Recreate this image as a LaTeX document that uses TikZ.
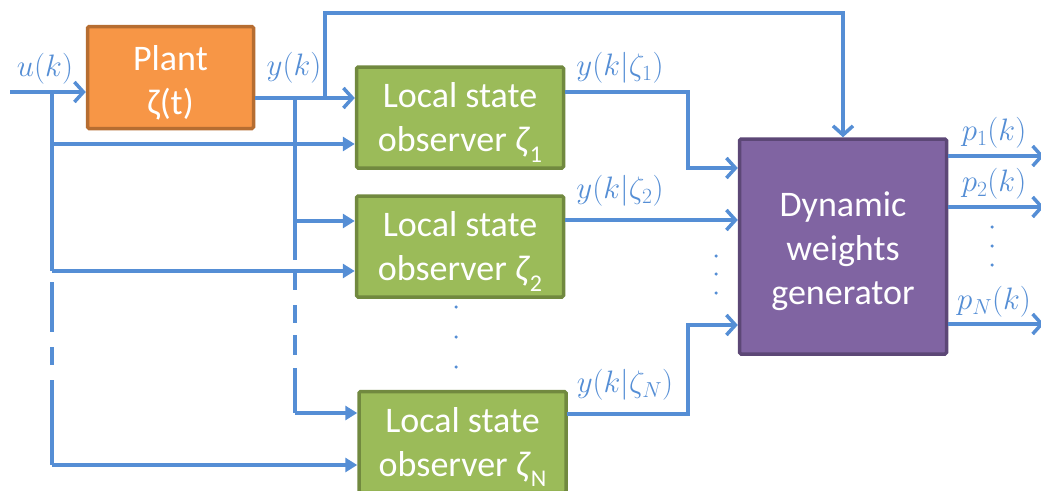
\RequirePackage{fix-cm}
\documentclass[tikz,border=0pt]{standalone}
\usepackage{fontspec}
\setmainfont{Carlito}
\usetikzlibrary{arrows.meta}
\definecolor{wire}{HTML}{558ED5}
\definecolor{plantfill}{HTML}{F79646}
\definecolor{plantedge}{HTML}{B66D31}
\definecolor{obsfill}{HTML}{9BBB59}
\definecolor{obsedge}{HTML}{71893F}
\definecolor{dwgfill}{HTML}{8064A2}
\definecolor{dwgedge}{HTML}{5C4776}
\tikzset{
  blk/.style={draw, line width=3.5pt, rounded corners=1.5pt, text=white, align=center,
    font=\fontsize{36}{44}\selectfont, inner sep=0pt},
  plantbox/.style={blk, fill=plantfill, draw=plantedge, minimum width=166pt, minimum height=102pt},
  obsbox/.style={blk, fill=obsfill, draw=obsedge, minimum width=207pt, minimum height=101pt},
  dwgbox/.style={blk, fill=dwgfill, draw=dwgedge, minimum width=207pt, minimum height=215pt},
  wireline/.style={draw=wire, line width=3.5pt},
  openarr/.style={wireline, -{Straight Barb[length=9pt, width=20pt, line width=3.5pt]}},
  solidarr/.style={wireline, -{Triangle[length=12pt, width=14pt]}},
  sig/.style={text=wire, font=\fontsize{31}{36}\selectfont, inner sep=0pt},
  dotmark/.style={fill=wire, draw=none, circle, inner sep=0pt, minimum size=3.5pt}
}
\newcommand{\zsub}[1]{\raisebox{-0.28em}{\fontsize{24}{24}\selectfont #1}}
\newcommand{\topstrut}{\rule{0pt}{35pt}}
\begin{document}
\begin{tikzpicture}[x=1pt, y=-1pt]
\useasboundingbox (0,0) rectangle (1041,490);

% blocks
\node[plantbox] (plant) at (170.5,77.5) {\topstrut Plant\\ζ(t)};
\node[obsbox] (obs1) at (460,117.5) {\topstrut Local state\\observer \textit{ζ}\zsub{1}};
\node[obsbox] (obs2) at (460,246.5) {\topstrut Local state\\observer \textit{ζ}\zsub{2}};
\node[obsbox] (obsN) at (462.5,442) {\topstrut Local state\\observer \textit{ζ}\zsub{N}};
\node[dwgbox] (dwg) at (843,246.5) {\topstrut Dynamic\\weights\\generator};

% junction and corner points
\coordinate (uin) at (10,92);
\coordinate (uj) at (52,92);
\coordinate (uj1) at (52,144);
\coordinate (uj2) at (52,271);
\coordinate (ujN) at (52,465);
\coordinate (yj) at (295,98);
\coordinate (yj2) at (295,221);
\coordinate (yjN) at (295,413);
\coordinate (yt) at (325,98);
\coordinate (top) at (325,13);
\coordinate (o1) at (565,92);
\coordinate (c1) at (688,92);
\coordinate (d1) at (688,168);
\coordinate (o2) at (565,220);
\coordinate (oN) at (567,414);
\coordinate (cN) at (688,414);
\coordinate (dN) at (688,325);
\coordinate (p1) at (1044,156);
\coordinate (p2) at (1044,207);
\coordinate (pN) at (1044,324);

% plant input and output
\draw[openarr] (uin) -- (uin -| plant.west);
\draw[openarr] (plant.east |- yj) -- (yj -| obs1.west);

% input u(k) distribution
\draw[wireline] (uj) -- (uj2);
\draw[solidarr] (uj1) -- (uj1 -| obs1.west);
\draw[solidarr] (uj2) -- (uj2 -| obs2.west);
\draw[wireline] (52,282) -- (52,332) (52,347) -- (52,365);
\draw[wireline] (52,380) -- (ujN);
\draw[solidarr] (ujN) -- (ujN -| obsN.west);

% output y(k) distribution
\draw[wireline] (yj) -- (295,260);
\draw[solidarr] (yj2) -- (yj2 -| obs2.west);
\draw[wireline] (295,273) -- (295,290) (295,305) -- (295,323) (295,335) -- (295,355);
\draw[wireline] (295,368) -- (yjN);
\draw[solidarr] (yjN) -- (yjN -| obsN.west);
\draw[openarr] (yt) -- (top) -| (dwg.north);

% observer outputs to the weights generator
\draw[openarr] (o1) -- (c1) -- (d1) -- (d1 -| dwg.west);
\draw[openarr] (o2) -- (o2 -| dwg.west);
\draw[openarr] (oN) -- (cN) -- (dN) -- (dN -| dwg.west);

% weights generator outputs
\draw[openarr] (dwg.east |- p1) -- (p1);
\draw[openarr] (dwg.east |- p2) -- (p2);
\draw[openarr] (dwg.east |- pN) -- (pN);

% signal labels
\node[sig] (lu) at (45,69) {$u(k)$};
\node[sig] (ly) at (294,68) {$y(k)$};
\node[sig] (ly1) at (620,68) {$y(k|\zeta_1)$};
\node[sig] (ly2) at (620,191) {$y(k|\zeta_2)$};
\node[sig] (lyN) at (625,385) {$y(k|\zeta_N)$};
\node[sig] (lp1) at (994,133) {$p_1(k)$};
\node[sig] (lp2) at (994,184) {$p_2(k)$};
\node[sig] (lpN) at (994,302) {$p_N(k)$};

% ellipsis dots
\foreach \yy [count=\i] in {256,274,293} \node[dotmark] (da\i) at (716,\yy) {};
\foreach \yy [count=\i] in {227,246,265} \node[dotmark] (db\i) at (992,\yy) {};
\foreach \yy [count=\i] in {307,337,367} \node[dotmark] (dc\i) at (456,\yy) {};
\end{tikzpicture}
\end{document}
